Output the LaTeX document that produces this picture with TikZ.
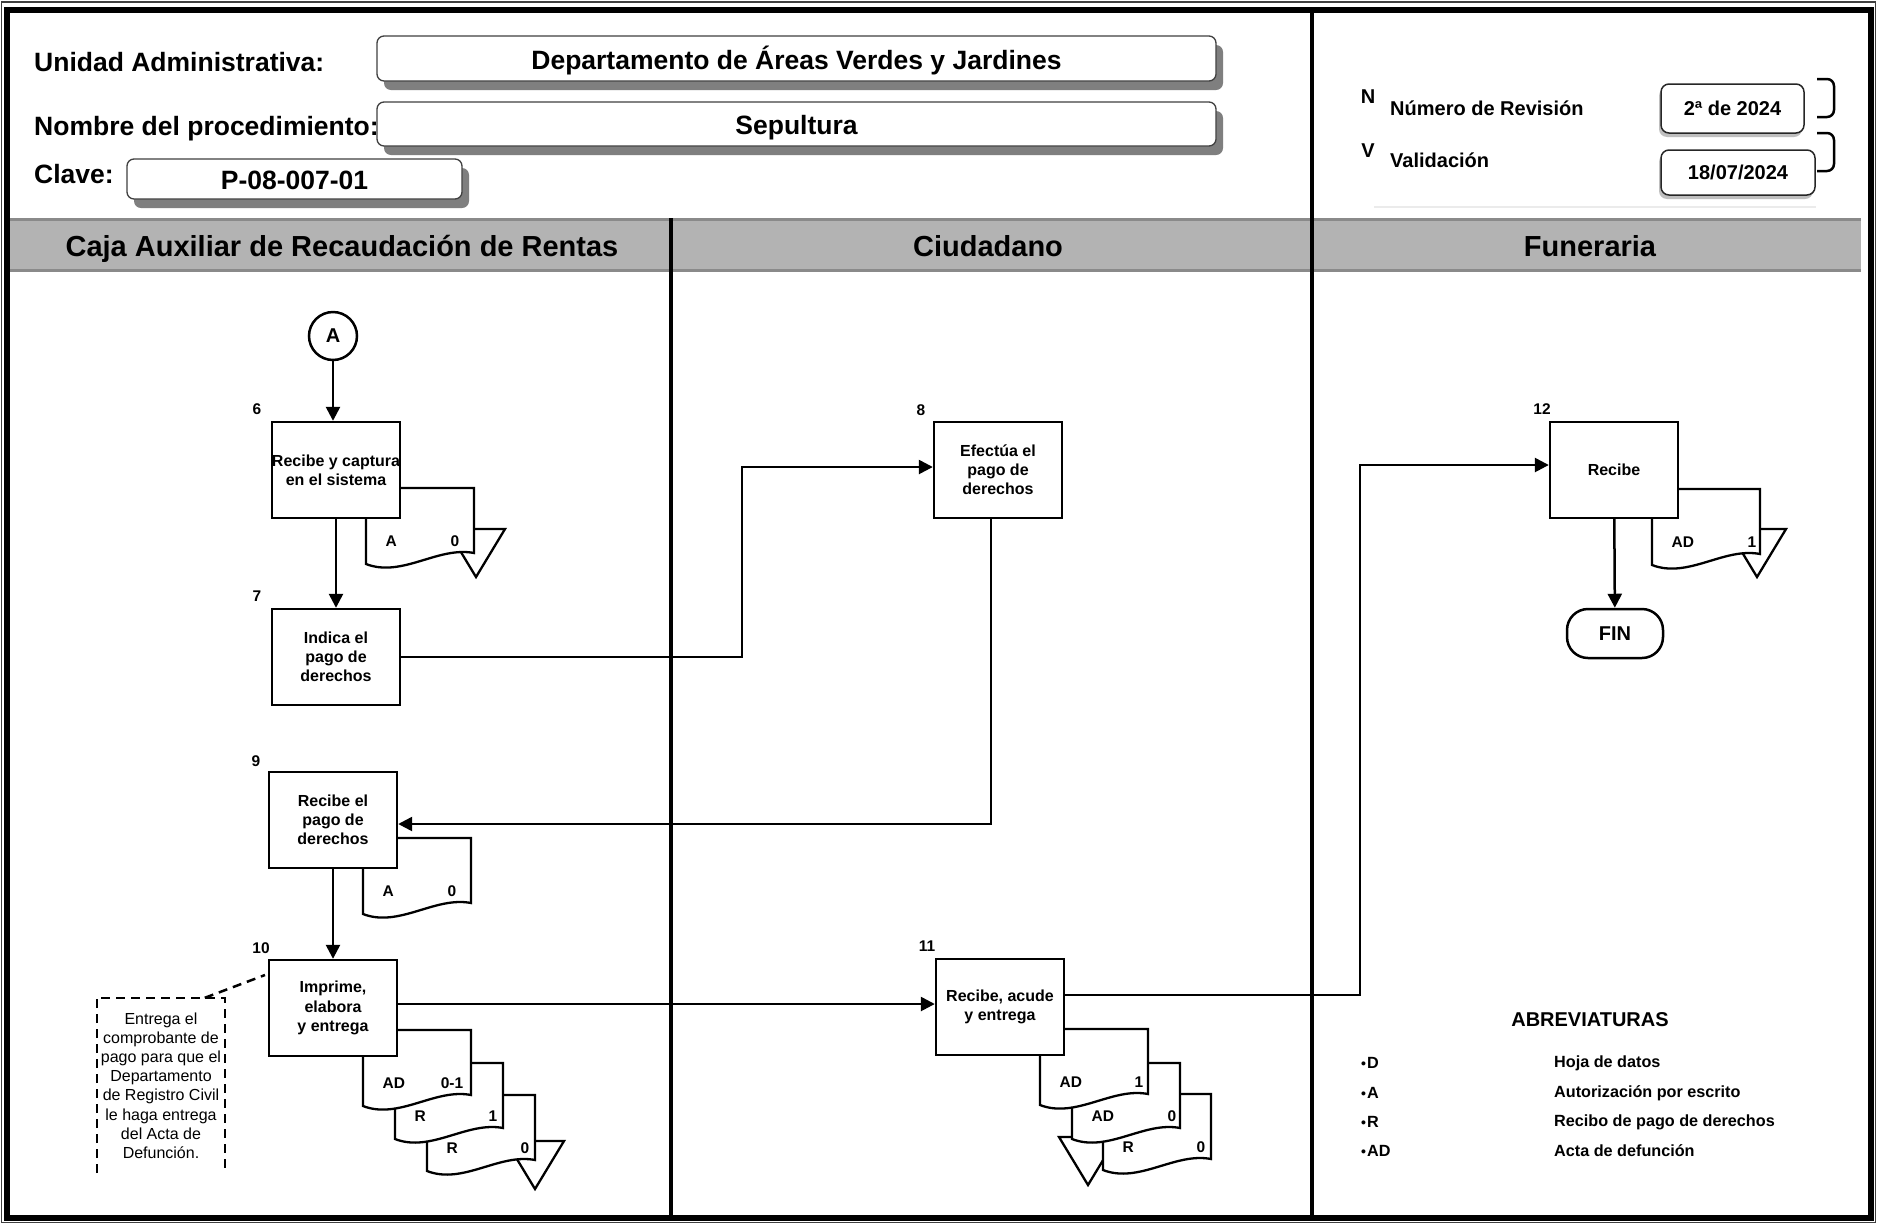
\documentclass[tikz,border=0pt]{standalone}
\usepackage{fontspec}
\setmainfont{Liberation Sans}
\usetikzlibrary{arrows.meta,shadows,calc}

\definecolor{bandgray}{HTML}{B3B3B3}
\definecolor{bandedge}{HTML}{8A8A8A}
\definecolor{shadowgray}{HTML}{7F7F7F}

% font sizes (1pt = 1 unit of the drawing)
\newcommand\fcHead{\bfseries\fontsize{26.5}{31}\selectfont}
\newcommand\fcLane{\bfseries\fontsize{29}{34}\selectfont}
\newcommand\fcRev{\bfseries\fontsize{20}{24}\selectfont}
\newcommand\fcBox{\bfseries\fontsize{16}{19.2}\selectfont}
\newcommand\fcLbl{\bfseries\fontsize{15.5}{18}\selectfont}
\newcommand\fcAbbr{\bfseries\fontsize{16.2}{19}\selectfont}
\newcommand\fcNote{\fontsize{16}{19.2}\selectfont}
\newcommand\fcDot{\raisebox{0.5pt}{\fontsize{14}{14}\selectfont •}\kern1pt}

% document sheet with a wavy lower edge: name, left, top, left label, right label, right label offset
\newcommand{\docsheet}[6]{%
  \draw[docline] (#2,#3) -- (#2+108,#3) -- (#2+108,#3+65)
    .. controls (#2+72,#3+58) and (#2+36,#3+90) .. (#2,#3+76) -- cycle;
  \node[doclbl, anchor=west] (#1-l) at (#2+19.5,#3+53) {#4};
  \node[doclbl] (#1-r) at (#2+#6,#3+53) {#5};
}
% archive triangle: left, top
\newcommand{\archtri}[2]{%
  \draw[docline] (#1,#2) -- (#1+58,#2) -- (#1+29,#2+48) -- cycle;
}

\tikzset{
  stepbox/.style={draw, line width=2.4pt, fill=white, minimum width=128pt,
    minimum height=96pt, inner sep=0pt, align=center, font=\fcBox},
  docline/.style={draw, line width=2.3pt, fill=white, line join=miter},
  doclbl/.style={font=\fcLbl, inner sep=0pt},
  stepnum/.style={font=\fcLbl, inner sep=0pt},
  arr/.style={line width=2.5pt, -{Triangle[length=14pt,width=14pt]}},
  hdrlbl/.style={font=\fcHead, inner sep=0pt, anchor=base west},
  hdrbox/.style={draw=black!75, line width=1.3pt, rounded corners=7pt, fill=white,
    inner sep=0pt, font=\fcHead, text height=26pt, text depth=5pt,
    drop shadow={shadow xshift=7pt, shadow yshift=-9pt, fill=shadowgray, opacity=1}},
  revlbl/.style={font=\fcRev, inner sep=0pt},
  revbox/.style={draw=black!85, line width=1.5pt, rounded corners=8pt, fill=white,
    inner sep=0pt, font=\fcRev,
    drop shadow={shadow xshift=-2pt, shadow yshift=-4pt, fill=black!45, opacity=.55}},
  brk/.style={line width=2.5pt, rounded corners=7pt},
  lanehdr/.style={font=\fcLane, inner sep=0pt, anchor=base},
  lanerule/.style={line width=4pt},
  dashline/.style={line width=2.5pt, dash pattern=on 9pt off 6pt},
  abbr/.style={font=\fcAbbr, inner sep=0pt, anchor=west},
}

\begin{document}
\begin{tikzpicture}[x=1pt,y=-1pt]
\useasboundingbox (0,0) rectangle (1877,1224);
\fill[white] (0,0) rectangle (1877,1224);

% ---------- lane header band ----------
\fill[bandgray] (10,218) rectangle (1861,272);
\draw[bandedge, line width=3pt] (10,219.5) -- (1861,219.5);
\draw[bandedge, line width=3pt] (10,270.5) -- (1861,270.5);
\draw[black!8, line width=1.5pt] (1374,207) -- (1816,207);

% ---------- frame and lane rules ----------
\draw[black!75, line width=1.2pt] (1.5,2) rectangle (1875.5,1222.5);
\draw[line width=6.5pt] (7,10) rectangle (1871,1218);
\draw[lanerule] (671,218) -- (671,1216);
\draw[lanerule] (1312,13) -- (1312,1216);

% ---------- heading ----------
\node[hdrlbl] (uaLbl) at (34,71) {Unidad Administrativa:};
\node[hdrbox, minimum width=839pt, minimum height=45pt] (uaBox) at (796.5,58.5)
  {Departamento de Áreas Verdes y Jardines};
\node[hdrlbl] (npLbl) at (34,135) {Nombre del procedimiento:};
\node[hdrbox, minimum width=839pt, minimum height=44pt] (npBox) at (796.5,124) {Sepultura};
\node[hdrlbl] (clLbl) at (34,183) {Clave:};
\node[hdrbox, minimum width=335pt, minimum height=40pt] (clBox) at (294.5,179) {P-08-007-01};

\node[revlbl] (nMark) at (1368,97) {N};
\node[revlbl, anchor=west] (nLbl) at (1390,108) {Número de Revisión};
\node[revlbl] (vMark) at (1368,151) {V};
\node[revlbl, anchor=west] (vLbl) at (1390,160) {Validación};
\node[revbox, minimum width=143pt, minimum height=49pt] (revBox) at (1732.5,108.5) {2ª de 2024};
\node[revbox, minimum width=154pt, minimum height=45pt] (valBox) at (1738,172.5) {18/07/2024};
\draw[brk] (1817,79) -- (1834,79) -- (1834,117) -- (1817,117);
\draw[brk] (1817,133) -- (1834,133) -- (1834,171) -- (1817,171);

\node[lanehdr] (lane1) at (342,256) {Caja Auxiliar de Recaudación de Rentas};
\node[lanehdr] (lane2) at (988,256) {Ciudadano};
\node[lanehdr] (lane3) at (1590,256) {Funeraria};

% ---------- documents and archive triangles ----------
\archtri{447}{529}
\docsheet{d6}{366}{488}{A}{0}{89}
\docsheet{d9}{363}{838}{A}{0}{89}
\archtri{506}{1141}
\docsheet{d10c}{427}{1095}{R}{0}{98}
\docsheet{d10b}{395}{1063}{R}{1}{98}
\docsheet{d10a}{363}{1030}{AD}{0-1}{89}
\archtri{1059}{1137}
\docsheet{d11c}{1103}{1094}{R}{0}{98}
\docsheet{d11b}{1072}{1063}{AD}{0}{100}
\docsheet{d11a}{1040}{1029}{AD}{1}{99}
\archtri{1728}{529}
\docsheet{d12}{1652}{489}{AD}{1}{100}

% ---------- activities ----------
\node[draw, circle, line width=2.5pt, minimum size=48pt, inner sep=0pt, fill=white,
  font=\fcRev] (A) at (333,336) {A};

\node[stepbox] (b6) at (336,470) {Recibe y captura\\en el sistema};
\node[stepbox] (b7) at (336,657) {Indica el\\pago de\\derechos};
\node[stepbox] (b8) at (998,470) {Efectúa el\\pago de\\derechos};
\node[stepbox] (b9) at (333,820) {Recibe el\\pago de\\derechos};
\node[stepbox] (b10) at (333,1008) {Imprime,\\elabora\\y entrega};
\node[stepbox] (b11) at (1000,1007) {Recibe, acude\\y entrega};
\node[stepbox] (b12) at (1614,470) {Recibe};
\node[draw, line width=2.5pt, rounded corners=21pt, minimum width=96pt, minimum height=49pt,
  inner sep=0pt, fill=white, font=\fcRev] (fin) at (1615,633.5) {FIN};

\node[stepnum] (n6) at (257,409) {6};
\node[stepnum] (n7) at (257,596) {7};
\node[stepnum] (n8) at (921,410) {8};
\node[stepnum] (n9) at (256,761) {9};
\node[stepnum] (n10) at (261,948) {10};
\node[stepnum] (n11) at (927,946) {11};
\node[stepnum] (n12) at (1542,409) {12};

% ---------- note ----------
\node[font=\fcNote, align=center, inner sep=0pt, minimum width=128pt, minimum height=175pt]
  (note) at (161,1085.5)
  {Entrega el\\comprobante de\\pago para que el\\Departamento\\de Registro Civil\\le haga entrega\\del Acta de\\Defunción.};
\draw[dashline] (note.south west) -- (note.north west) -- (note.north east) -- (note.south east);
\coordinate (noteTip) at (265,975);
\draw[dashline] (note.north west) ++(108,0) -- (noteTip);

% ---------- connectors ----------
\draw[arr] (A) -- (A |- b6.north);
\draw[arr] (b6) -- (b7);
\coordinate (j78) at (742,467);
\draw[arr] (b7.east) -| (j78) -- (j78 -| b8.west);
\coordinate (j89) at (991,824);
\draw[arr] (b8.south -| j89) -- (j89) -- (j89 -| b9.east);
\draw[arr] (b9) -- (b10);
\coordinate (j1011) at (700,1004);
\draw[arr] (b10.east |- j1011) -- (b11.west |- j1011);
\coordinate (j1112) at (1360,995);
\coordinate (k12) at (1360,465);
\draw[arr] (b11.east |- j1112) -- (j1112) -- (k12) -- (k12 -| b12.west);
\draw[arr] (b12) -- (fin);

% ---------- abbreviations ----------
\node[font=\fcRev, inner sep=0pt] (abTitle) at (1590,1020) {ABREVIATURAS};
\node[abbr] (abD) at (1361,1063) {\fcDot D};
\node[abbr] (abA) at (1361,1093) {\fcDot A};
\node[abbr] (abR) at (1361,1122) {\fcDot R};
\node[abbr] (abAD) at (1361,1151) {\fcDot AD};
\node[abbr] (dsD) at (1554,1063) {Hoja de datos};
\node[abbr] (dsA) at (1554,1093) {Autorización por escrito};
\node[abbr] (dsR) at (1554,1122) {Recibo de pago de derechos};
\node[abbr] (dsAD) at (1554,1151) {Acta de defunción};
\end{tikzpicture}
\end{document}
